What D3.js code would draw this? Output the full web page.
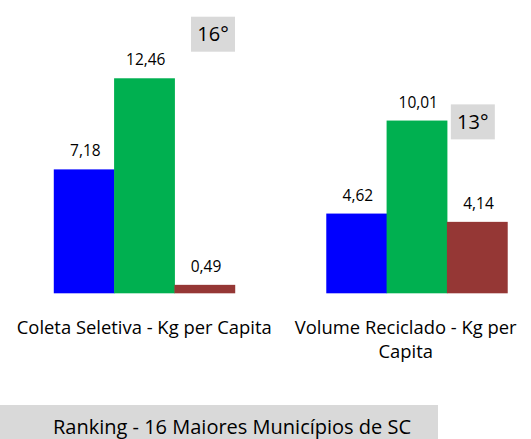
<!DOCTYPE html>
<html>
<head>
<meta charset="utf-8">
<script src="https://cdn.jsdelivr.net/npm/d3@7"></script>
<style>
  html, body { margin: 0; padding: 0; background: #fff; }
  svg { display: block; font-family: "Open Sans", "Noto Sans", sans-serif; }
</style>
</head>
<body>
<div id="chart"></div>
<script>
// data
const categories = ["Coleta Seletiva - Kg per Capita", "Volume Reciclado - Kg per Capita"]
const seriesKeys = ["s1", "s2", "s3"]
const s1 = [7.18, 4.62]
const s2 = [12.46, 10.01]
const s3 = [0.49, 4.14]
const ranks = ["16°", "13°"]
const footer = "Ranking - 16 Maiores Municípios de SC"

const colors = ["#0000ff", "#00b050", "#953735"]

// badge placement (fraction of group width, level on value axis)
const badgeDx = [0.88, 0.81]
const badgeLevel = [14, 8.92]

const W = 531, H = 439
const base = 293.3

const rows = categories.map((c, i) => ({cat: c, s1: s1[i], s2: s2[i], s3: s3[i]}))

const svg = d3.select("#chart").append("svg").attr("width", W).attr("height", H)

const x0 = d3.scaleBand().domain(categories).range([8, 553]).paddingInner(0.336).paddingOuter(0.168)
const x1 = d3.scaleBand().domain(seriesKeys).range([0, x0.bandwidth()])
const y = d3.scaleLinear().domain([0, 14]).range([base, 51.7])
const col = d3.scaleOrdinal().domain(seriesKeys).range(colors)

const groups = svg.append("g").selectAll("g").data(rows).join("g")
    .attr("transform", d => `translate(${x0(d.cat)},0)`)

groups.selectAll("rect").data(d => seriesKeys.map(k => ({k, v: d[k]}))).join("rect")
    .attr("x", d => x1(d.k))
    .attr("y", d => y(d.v))
    .attr("width", x1.bandwidth() + 0.5)
    .attr("height", d => y(0) - y(d.v))
    .attr("fill", d => col(d.k))

groups.selectAll("text.val").data(d => seriesKeys.map(k => ({k, v: d[k]}))).join("text")
    .attr("class", "val")
    .attr("x", d => x1(d.k) + x1.bandwidth() / 2 + 1.5)
    .attr("y", d => y(d.v) - 13)
    .attr("text-anchor", "middle")
    .attr("font-size", 15.5)
    .attr("fill", "#000")
    .text(d => d3.format(".2f")(d.v).replace(".", ","))

// rank badges
const badges = svg.append("g").selectAll("g").data(ranks).join("g")
    .attr("transform", (d, i) => `translate(${x0(categories[i]) + badgeDx[i] * x0.bandwidth()},${y(badgeLevel[i])})`)
badges.append("rect")
    .attr("x", -22).attr("y", -35).attr("width", 44).attr("height", 35)
    .attr("fill", "#d9d9d9")
badges.append("text")
    .attr("text-anchor", "middle").attr("y", -10.5)
    .attr("font-size", 20).attr("fill", "#000")
    .text(d => d)

// category labels, wrapped in the (clipped) band step
const step = x0.step()
const lab = svg.append("g").selectAll("text").data(categories).join("text")
    .attr("font-size", 18.4).attr("fill", "#000").attr("text-anchor", "middle")
lab.each(function (d) {
    const c = x0(d) + x0.bandwidth() / 2
    const lo = Math.max(0, c - step / 2), hi = Math.min(W, c + step / 2)
    const cx = (lo + hi) / 2, maxW = hi - lo
    const t = d3.select(this).attr("y", 334)
    const words = d.split(" ")
    let line = []
    let ts = t.append("tspan").attr("x", cx).attr("dy", 0)
    for (const w of words) {
        line.push(w)
        ts.text(line.join(" "))
        if (ts.node().getComputedTextLength() > maxW && line.length > 1) {
            line.pop()
            ts.text(line.join(" "))
            line = [w]
            ts = t.append("tspan").attr("x", cx).attr("dy", 24.3).text(w)
        }
    }
})

// footer
svg.append("rect").attr("x", 0).attr("y", 405).attr("width", 438).attr("height", 40).attr("fill", "#d9d9d9")
svg.append("text").attr("x", 232).attr("y", 434).attr("text-anchor", "middle")
    .attr("font-size", 20).attr("fill", "#000").text(footer)
</script>
</body>
</html>
